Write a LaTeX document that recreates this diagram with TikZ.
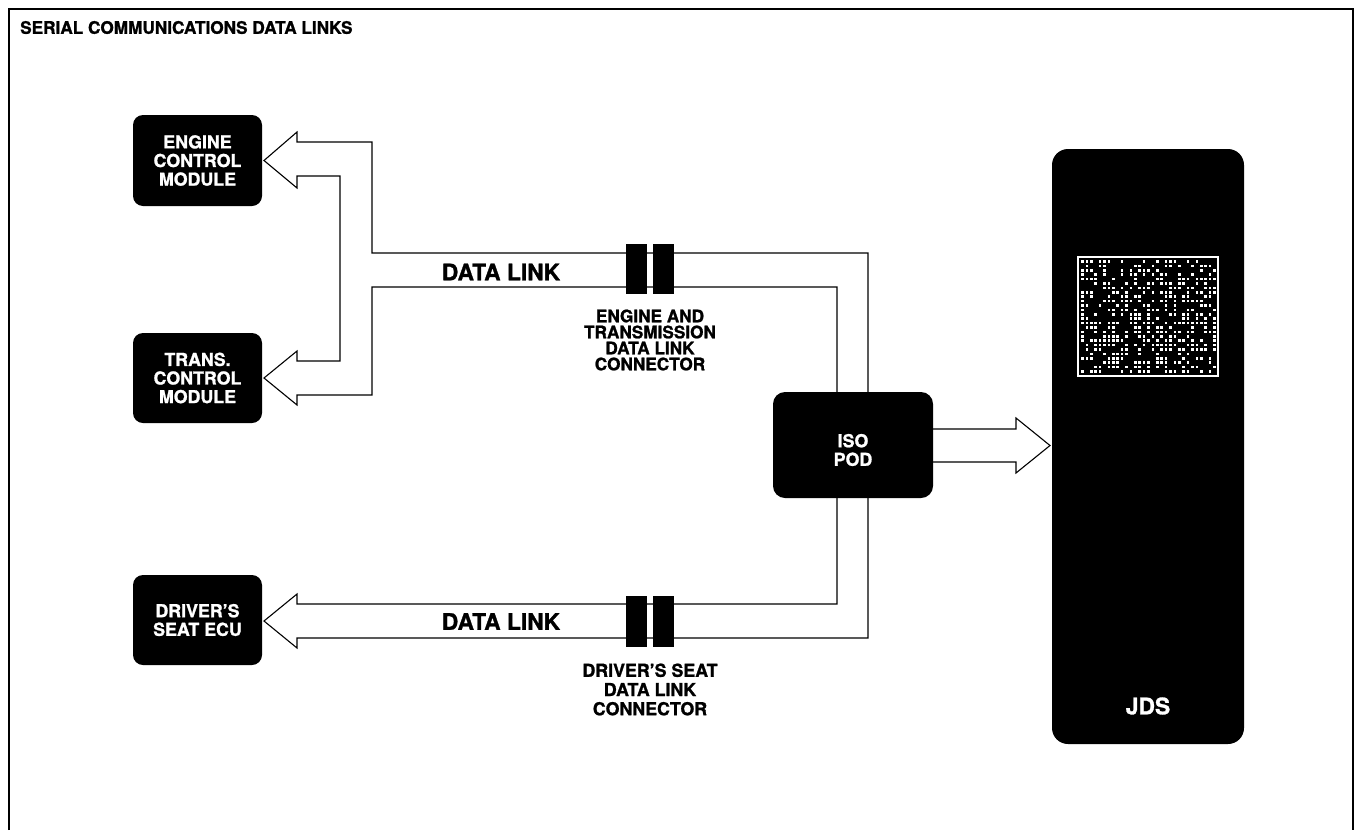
\documentclass[tikz,border=0pt]{standalone}
\usepackage{fontspec}
\setmainfont{TeX Gyre Heros}[BoldFeatures={FakeBold=1.2}]
\usetikzlibrary{calc}
\newcommand{\lblfont}{\fontsize{17.8}{18.6}\selectfont\bfseries}
\newcommand{\bigfont}{\fontsize{22.8}{26}\selectfont\bfseries}
\begin{document}
\begin{tikzpicture}[x=1pt,y=-1pt,
  blk/.style={fill=black, rounded corners=10pt, inner sep=0pt, text=white, font=\lblfont, align=center},
  plug/.style={fill=black, minimum width=21pt, minimum height=50pt, inner sep=0pt},
  wire/.style={line width=1.1pt, line join=miter},
  frame/.style={line width=1.3pt},
  lbl/.style={font=\lblfont, align=center, inner sep=0pt},
  big/.style={font=\bigfont, inner sep=0pt}]
\useasboundingbox (0,0) rectangle (1356,830);
% frame and title
\draw[frame] (9,830) -- (9,9) -- (1353,9) -- (1353,830);
\node[font=\fontsize{17.2}{20}\selectfont\bfseries, anchor=west, inner sep=0pt] (title) at (20,27.5) {SERIAL COMMUNICATIONS DATA LINKS};
% modules
\node[blk, minimum width=129pt, minimum height=91pt] (ecm) at (197.5,160.5) {ENGINE\\CONTROL\\MODULE};
\node[blk, minimum width=129pt, minimum height=90pt] (tcm) at (197.5,378) {TRANS.\\CONTROL\\MODULE};
\node[blk, minimum width=129pt, minimum height=90pt] (ecu) at (197.5,620) {DRIVER'S\\SEAT ECU};
\node[blk, minimum width=160pt, minimum height=106pt, rounded corners=12pt] (iso) at (853,445) {};
\node[lbl, text=white] (isolabel) at (853,450) {ISO\\POD};
\node[blk, minimum width=192pt, minimum height=595pt, rounded corners=16pt] (jds) at (1148,446.5) {};
\node[big, text=white] (jdslabel) at (1148,706) {JDS};
% screen
\draw[white, line width=1.3pt] (1078,257) rectangle (1218,376);
\pgfmathsetseed{4242}
\foreach \i in {0,...,30}{
  \foreach \j in {0,...,25}{
    \pgfmathtruncatemacro{\on}{rnd<0.48 ? 1 : 0}
    \ifnum\on=1
      \fill[white] ({1081.2+\i*4.4},{260.2+\j*4.4}) rectangle ++(2.6,2.6);
    \fi
  }
}
% upper bus (ECM and TCM)
\draw[wire] (868,0 |- iso.north) -- (868,253) -- (372,253) -- (372,142) -- (297,142) -- (297,132)
  -- (264,160.5) -- (297,188) -- (297,176) -- (340,176) -- (340,361) -- (297,361) -- (297,351)
  -- (264,378) -- (297,405) -- (297,395) -- (372,395) -- (372,287) -- (837,287) -- (837,0 |- iso.north);
% lower bus (driver's seat)
\draw[wire] (868,0 |- iso.south) -- (868,638) -- (297,638) -- (297,648) -- (264,621)
  -- (297,594) -- (297,604) -- (837,604) -- (837,0 |- iso.south);
% ISO POD to JDS
\draw[wire] (iso.east |- 0,429) -- (1016,429) -- (1016,418) -- (1050,445.5) -- (1016,473) -- (1016,462) -- (iso.east |- 0,462);
% connectors
\node[plug] (c1a) at (636.5,269) {};
\node[plug] (c1b) at (663.5,269) {};
\node[plug, minimum height=51pt] (c2a) at (636.5,621.5) {};
\node[plug, minimum height=51pt] (c2b) at (663.5,621.5) {};
% labels
\node[big] (dl1) at (501,272) {DATA LINK};
\node[big] (dl2) at (501,621.5) {DATA LINK};
\node[lbl, font=\fontsize{17.2}{16}\selectfont\bfseries] (c1lbl) at (650,340) {ENGINE AND\\TRANSMISSION\\DATA LINK\\CONNECTOR};
\node[lbl, font=\fontsize{17.8}{19.2}\selectfont\bfseries] (c2lbl) at (650,689.5) {DRIVER'S SEAT\\DATA LINK\\CONNECTOR};
\end{tikzpicture}
\end{document}
